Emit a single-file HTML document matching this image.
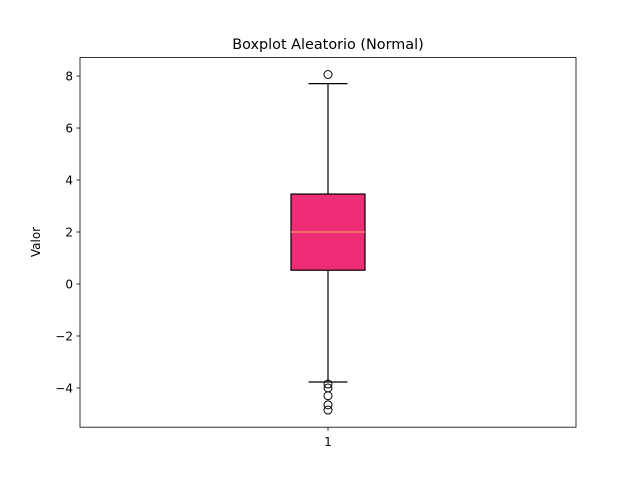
<!DOCTYPE html>
<html><head><meta charset="utf-8"><style>
body{margin:0;background:#fff;}
text{font-family:"DejaVu Sans","Liberation Sans",sans-serif;}
</style></head><body>
<svg id="chart" width="640" height="480" xmlns="http://www.w3.org/2000/svg">
<rect width="640" height="480" fill="#fff"/>
<text x="328" y="49" font-size="14.4" text-anchor="middle">Boxplot Aleatorio (Normal)</text>
<text transform="translate(40,242) rotate(-90)" font-size="12" text-anchor="middle">Valor</text>
<g id="plot"></g>
<rect x="80" y="57.6" width="496" height="369.6" fill="none" stroke="#000" stroke-width="0.8"/>
</svg>
<script>
const yTicks = [-4,-2,0,2,4,6,8];
const yTickLabels = ["\u22124","\u22122","0","2","4","6","8"];
const categories = ["1"];
const q1 = [0.53];
const median = [2.0];
const q3 = [3.46];
const whiskerLow = [-3.77];
const whiskerHigh = [7.71];
const outliers = [8.06,-3.85,-4.0,-4.3,-4.65,-4.85];

const ns="http://www.w3.org/2000/svg";
const g=document.getElementById('plot');
const yMin=-5.51,yMax=8.71,plotTop=57.6,plotBot=427.2;
const y=v=>plotBot-(v-yMin)/(yMax-yMin)*(plotBot-plotTop);
const x=i=>80+496*(i+0.5)/categories.length;
function mk(t,a){const e=document.createElementNS(ns,t);for(const k in a)e.setAttribute(k,a[k]);g.appendChild(e);return e;}
yTicks.forEach((v,i)=>{
  const l=mk('line',{x1:76.5,x2:80,y1:y(v),y2:y(v),stroke:'#000','stroke-width':0.8});
  
  
  const t=mk('text',{x:73,y:y(v)+4.5,'font-size':12,'text-anchor':'end'});
  t.textContent=yTickLabels[i];
  
  
});
categories.forEach((c,i)=>{
  const cx=x(i),hw=37,cw=19.5;
  const tk=mk('line',{x1:cx,x2:cx,y1:427.2,y2:430.7,stroke:'#000','stroke-width':0.8});
  
  
  const tl=mk('text',{x:cx,y:446,'font-size':12,'text-anchor':'middle'});
  tl.textContent=c;
  
  
  const w1=mk('line',{x1:cx,x2:cx,y1:y(q3[i]),y2:y(whiskerHigh[i]),stroke:'#000','stroke-width':1.2});
  
  
  const w2=mk('line',{x1:cx,x2:cx,y1:y(q1[i]),y2:y(whiskerLow[i]),stroke:'#000','stroke-width':1.2});
  
  
  const c1=mk('line',{x1:cx-cw,x2:cx+cw,y1:y(whiskerHigh[i]),y2:y(whiskerHigh[i]),stroke:'#000','stroke-width':1.2});
  
  
  const c2=mk('line',{x1:cx-cw,x2:cx+cw,y1:y(whiskerLow[i]),y2:y(whiskerLow[i]),stroke:'#000','stroke-width':1.2});
  
  
  const b=mk('rect',{x:cx-hw,y:y(q3[i]),width:2*hw,height:y(q1[i])-y(q3[i]),fill:'#ee2d74',stroke:'#000','stroke-width':1.2});
  
  
  const m=mk('line',{x1:cx-hw,x2:cx+hw,y1:y(median[i]),y2:y(median[i]),stroke:'#ff8c5a','stroke-width':1.2});
  
  
  outliers.forEach(v=>{
    const o=mk('circle',{cx:cx,cy:y(v),r:4,fill:'none',stroke:'#000','stroke-width':1});
    
    
  });
});
</script>
</body></html>
